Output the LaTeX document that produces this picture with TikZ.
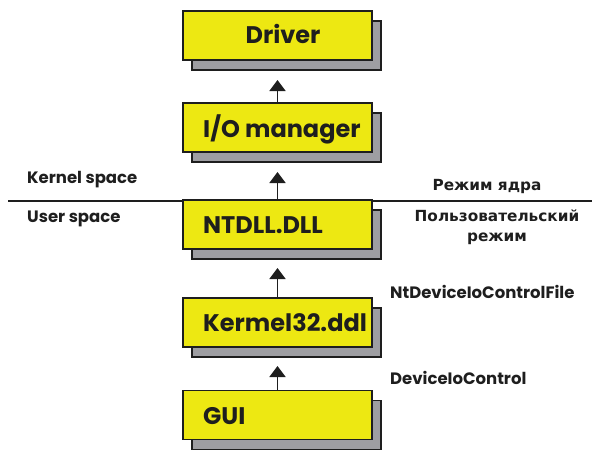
\documentclass[tikz,border=0pt]{standalone}
\usepackage{fontspec}
\setmainfont{Poppins}
\newfontfamily\cyrfont{DejaVu Sans}
\usetikzlibrary{arrows.meta}
\definecolor{boxyellow}{RGB}{237,232,18}
\definecolor{shadowgray}{RGB}{158,158,162}
\definecolor{inkblack}{RGB}{30,30,30}
\tikzset{
  layerbox/.style={draw=inkblack, line width=1.8pt, fill=boxyellow,
    minimum width=189pt, minimum height=49pt, inner sep=0pt},
  layershadow/.style={draw=inkblack, line width=1.8pt, fill=shadowgray,
    minimum width=189pt, minimum height=49pt, inner sep=0pt},
  boxlabel/.style={font=\bfseries\fontsize{24}{28}\selectfont, text=inkblack, inner sep=0pt},
  sidelabel/.style={font=\bfseries\fontsize{16.5}{19}\selectfont, text=inkblack, inner sep=0pt},
  cyrlabel/.style={font=\cyrfont\bfseries\fontsize{15.3}{19.5}\selectfont, text=inkblack, inner sep=0pt, align=center},
  callarrow/.style={line width=1.6pt, draw=inkblack, -{Triangle[width=16pt,length=11pt]}}
}
\begin{document}
\begin{tikzpicture}[x=1pt,y=-1pt]
\useasboundingbox (0,0) rectangle (592,450);

% boundary between kernel and user mode
\coordinate (lineL) at (8,201);
\coordinate (lineR) at (592,201);
\draw[line width=1.6pt, inkblack] (lineL) -- (lineR);

% layers: shadow first, then the yellow box on top
\foreach \n/\y in {drv/35.5, iom/127.5, ntd/224.5, k32/322.5, gui/415}{
  \node[layershadow] (\n-sh) at (286.5,\y+10) {};
  \node[layerbox] (\n) at (277.5,\y) {};
}

% box labels
\node[boxlabel, anchor=base] (drv-t) at (283,43) {Driver};
\node[boxlabel, anchor=base west] (iom-t) at (203,137) {I/O manager};
\node[boxlabel, anchor=base west] (ntd-t) at (203,233) {NTDLL.DLL};
\node[boxlabel, anchor=base west] (k32-t) at (203,331) {Kermel32.ddl};
\node[boxlabel, anchor=base west] (gui-t) at (203,424) {GUI};

% calls go upwards
\coordinate (a1) at (277.5,80);
\coordinate (a2) at (277.5,172);
\coordinate (a3) at (277.5,268);
\coordinate (a4) at (277.5,366);
\draw[callarrow] (iom.north) -- (a1);
\draw[callarrow] (ntd.north) -- (a2);
\draw[callarrow] (k32.north) -- (a3);
\draw[callarrow] (gui.north) -- (a4);

% side labels
\node[sidelabel, anchor=base west] (ks) at (27,183) {Kernel space};
\node[sidelabel, anchor=base west] (us) at (27,222) {User space};
\node[cyrlabel, anchor=base] (rk) at (487,190) {Режим ядра};
\node[cyrlabel, anchor=north] (ru) at (497,210) {Пользовательский\\режим};
\node[sidelabel, anchor=base west] (nt) at (390,298) {NtDeviceIoControlFile};
\node[sidelabel, anchor=base west] (dc) at (390,384) {DeviceIoControl};
\end{tikzpicture}
\end{document}
